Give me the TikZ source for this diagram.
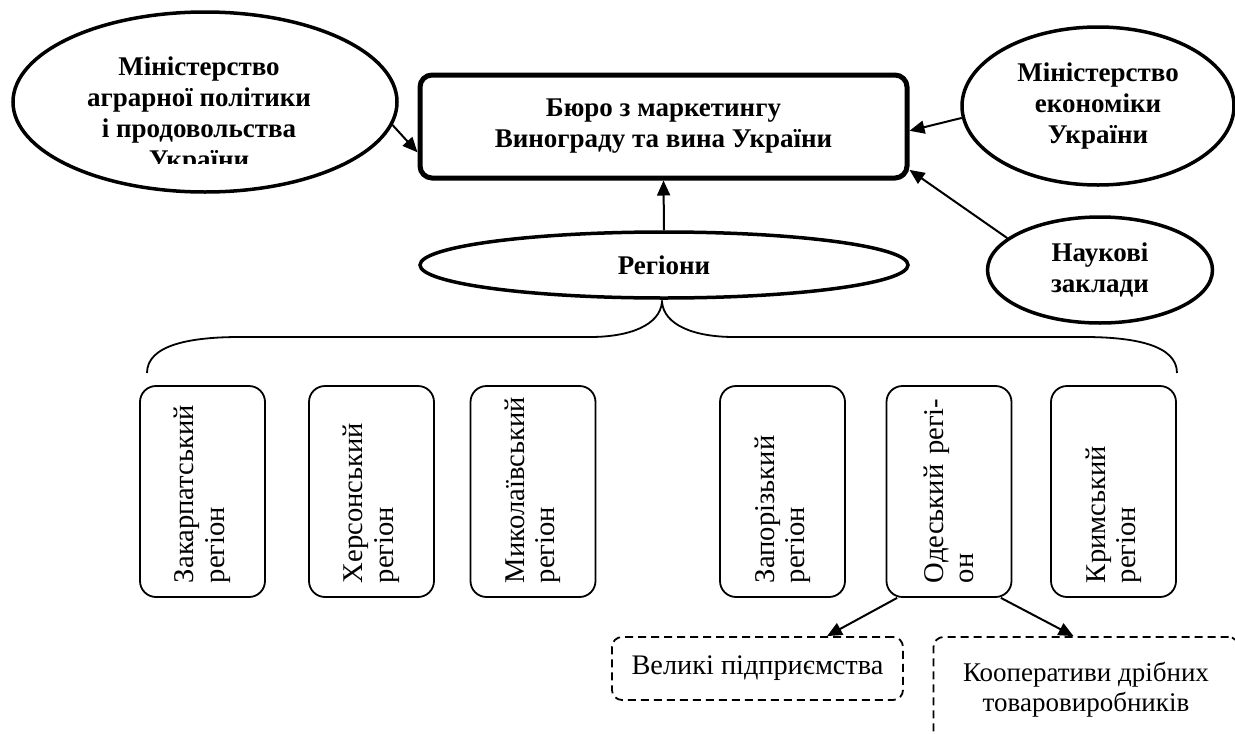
\documentclass[tikz,border=0pt]{standalone}
\usepackage{fontspec}
\setmainfont{Liberation Serif}
\usetikzlibrary{arrows.meta,shapes.geometric}
\begin{document}
\begin{tikzpicture}[x=1pt,y=-1pt,
  bigtxt/.style={font=\bfseries\fontsize{27}{31}\selectfont, align=center},
  oval/.style={ellipse, draw, line width=3.5pt, inner sep=0pt, bigtxt},
  regbox/.style={draw, line width=1.8pt, rounded corners=16pt, rotate=90,
    minimum width=211pt, minimum height=125pt, inner xsep=14pt, inner ysep=0pt,
    text width=183pt, align=left, font=\fontsize{28.6}{30.5}\selectfont},
  subbox/.style={draw, dash pattern=on 8pt off 5pt, line width=1.8pt,
    rounded corners=10pt, align=center, inner sep=0pt},
  arr/.style={line width=2pt, -{Triangle[length=15pt,width=13pt]}},
  bracestyle/.style={line width=1.8pt}
]
\useasboundingbox (0,0) rectangle (1235,734);
\clip (0,0) rectangle (1235,734);

% central bureau
\node[draw, line width=5pt, rounded corners=12pt, minimum width=487pt,
      minimum height=103pt, inner sep=0pt, bigtxt] (bureau) at (663.5,126.5)
      {Бюро з маркетингу\\Винограду та вина України};

% ministry of agrarian policy (text clipped as in the source)
\node[oval, minimum width=384pt, minimum height=180pt] (agro) at (205,102) {};
\begin{scope}
  \clip (0,0) rectangle (1235,163);
  \node[bigtxt, inner sep=0pt] (agrotxt) at (199,116)
    {Міністерство\\аграрної політики\\і продовольства\\України};
\end{scope}

% ministry of economy
\node[oval, minimum width=272pt, minimum height=158pt] (econ) at (1098,106)
  {Міністерство\\економіки\\України};

% scientific institutions
\node[oval, minimum width=225pt, minimum height=106pt] (sci) at (1100,270)
  {Наукові\\заклади};

% regions
\node[oval, minimum width=488pt, minimum height=66pt] (reg) at (664,265) {Регіони};

% arrows to bureau
\draw[arr] (agro.-7) -- (bureau.186);
\draw[arr] (econ.185) -- (bureau.-1.3);
\draw[arr] (sci.161.7) -- (bureau.-10);
\draw[arr] (reg.north) -- (bureau.south);

% brace
\coordinate (bracetip) at (662,302);
\draw[bracestyle] (147,373) .. controls (147,345) and (190,337) .. (240,337)
  -- (590,337) .. controls (630,337) and (660,325) .. (bracetip)
  .. controls (664,325) and (694,337) .. (734,337)
  -- (1084,337) .. controls (1134,337) and (1177,345) .. (1177,373);

% region boxes
\node[regbox] (r1) at (202.5,491.5) {\mbox{Закарпатський}\\регіон};
\node[regbox] (r2) at (371.5,491.5) {\mbox{Херсонський}\\регіон};
\node[regbox] (r3) at (533,491.5) {\mbox{Миколаївський}\\регіон};
\node[regbox] (r4) at (782.5,491.5) {\mbox{Запорізький}\\регіон};
\node[regbox] (odesa) at (949,491.5) {\mbox{Одеський регі-}\\он};
\node[regbox] (r6) at (1113.5,491.5) {\mbox{Кримський}\\регіон};

% sub boxes
\node[subbox, minimum width=291pt, minimum height=63pt,
      font=\fontsize{28.3}{30}\selectfont] (big) at (757.5,668.5)
  {Великі підприємства};
\node[subbox, minimum width=305pt, minimum height=106pt,
      font=\fontsize{27}{30}\selectfont] (coop) at (1086,690)
  {Кооперативи дрібних\\товаровиробників};

\draw[arr] (odesa.154.2) -- (big.25.7);
\draw[arr] (odesa.206.2) -- (coop.103.8);
\end{tikzpicture}
\end{document}
